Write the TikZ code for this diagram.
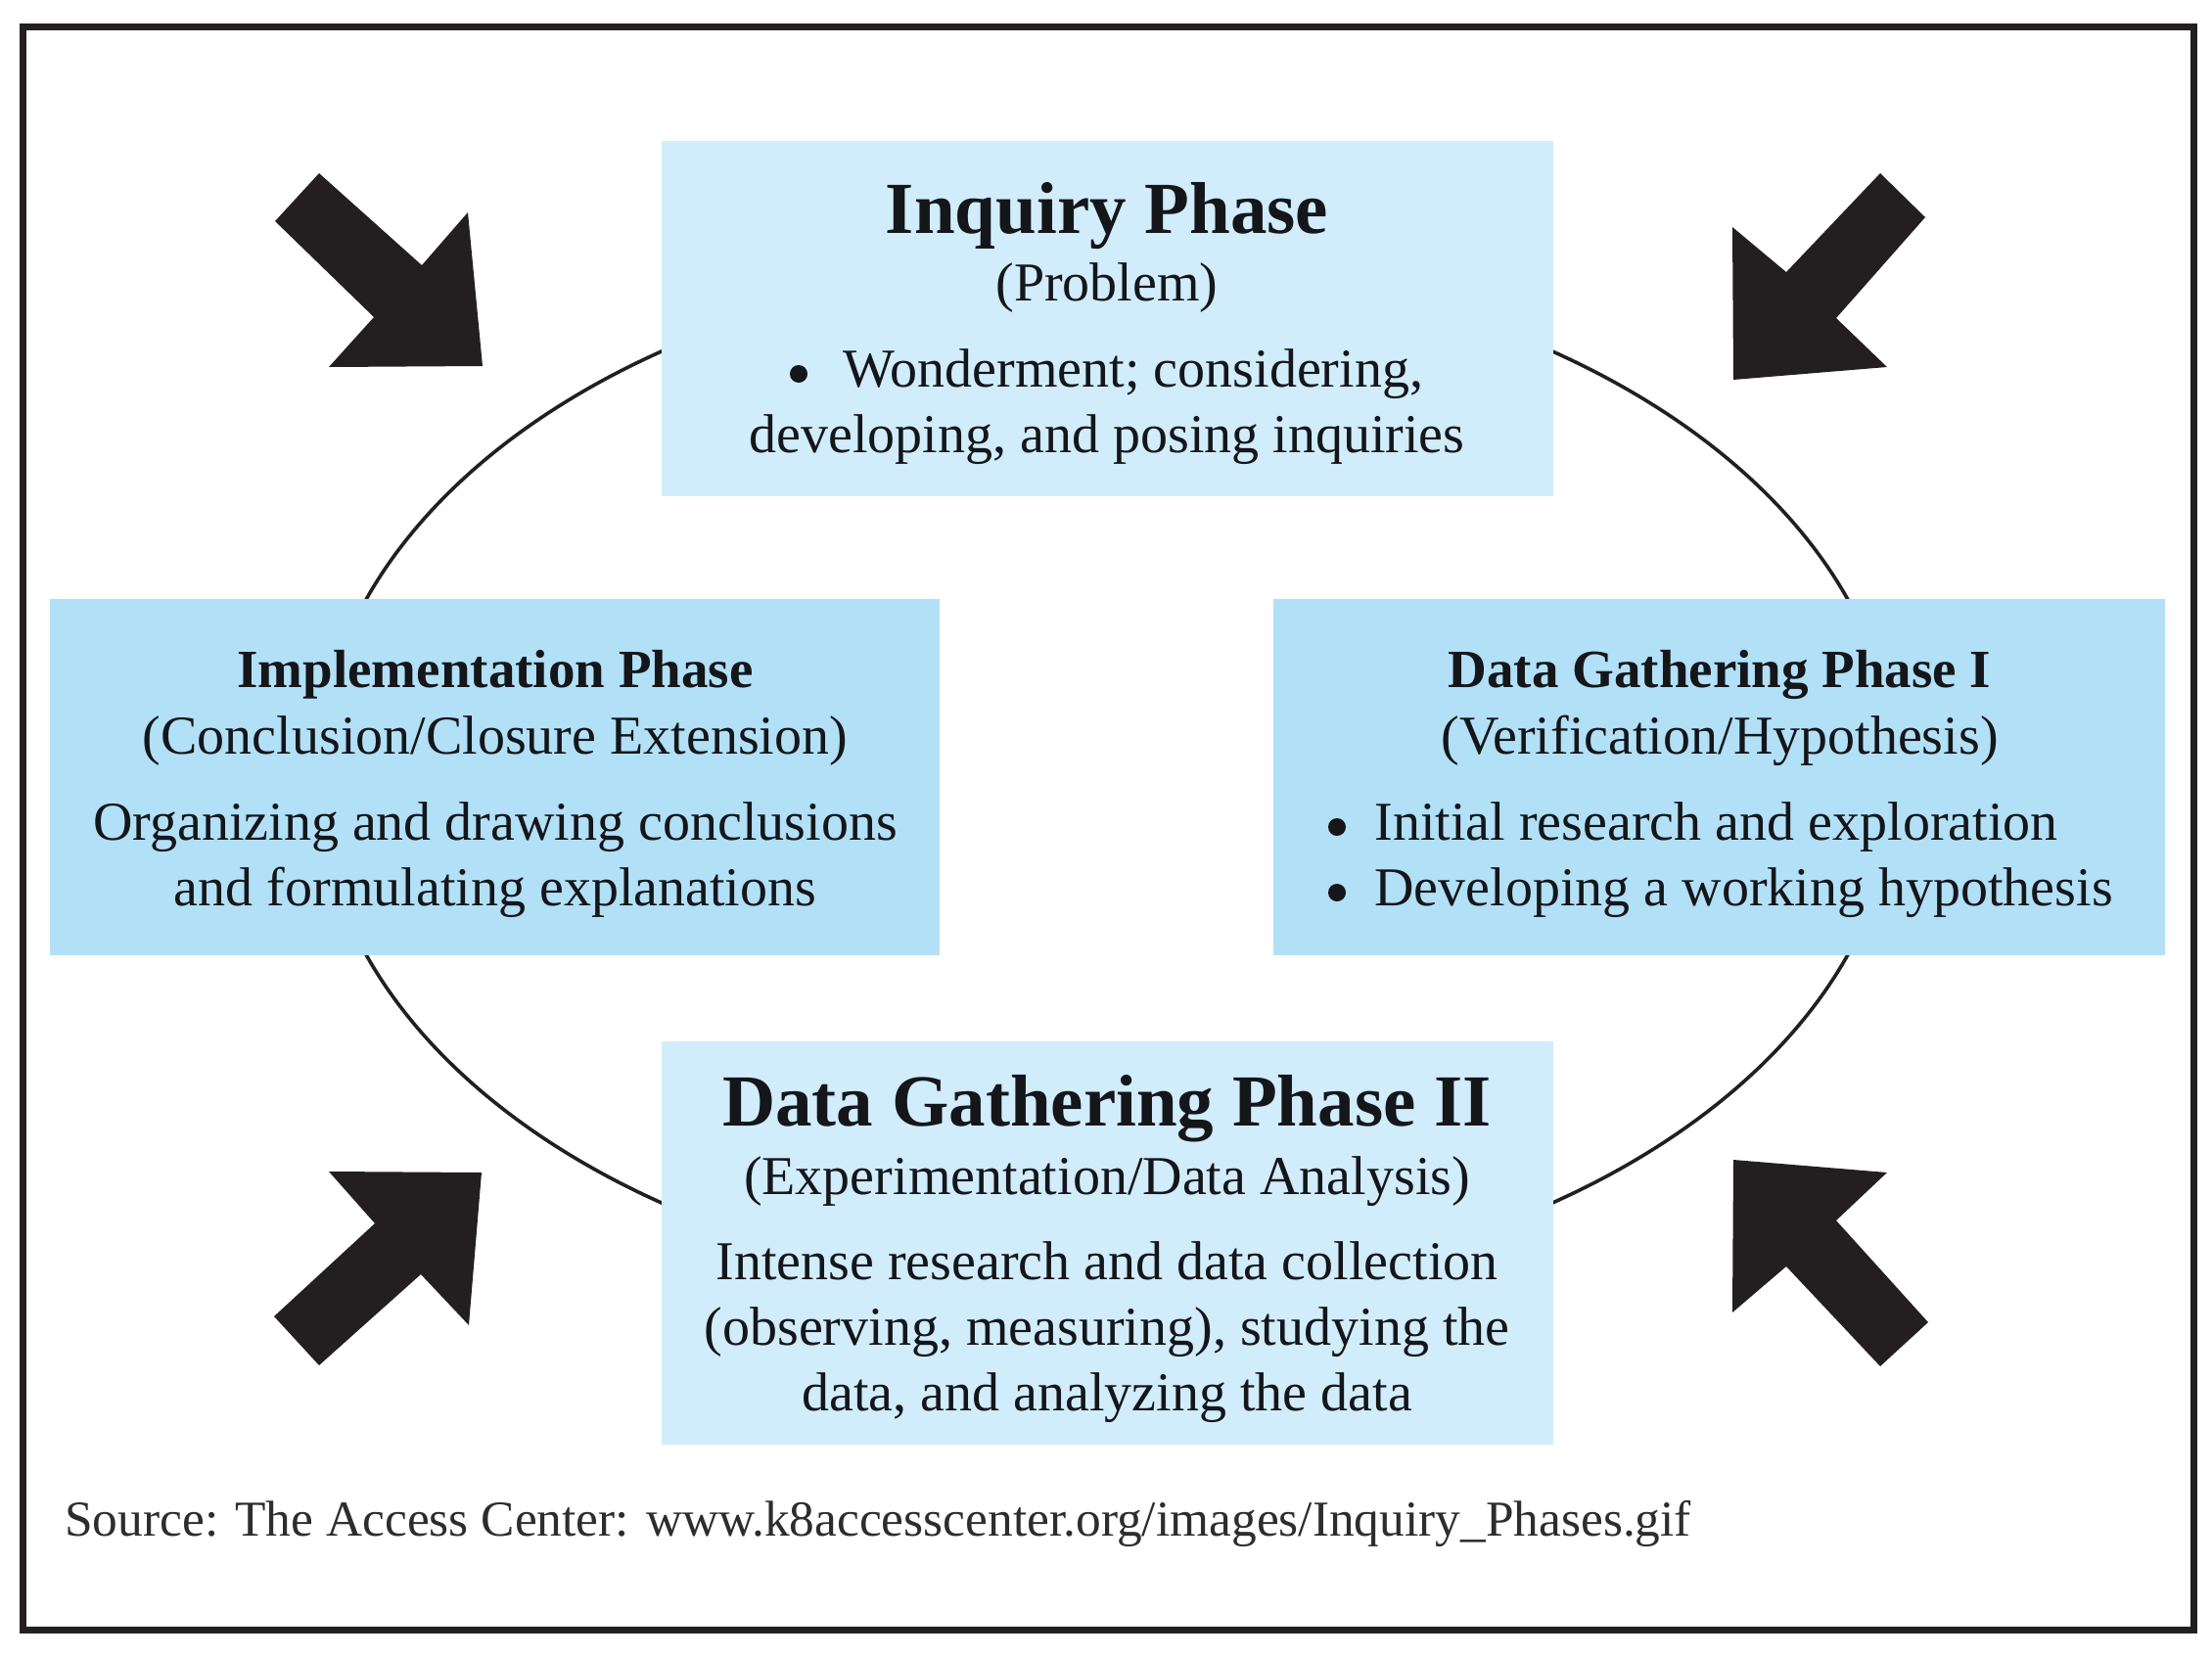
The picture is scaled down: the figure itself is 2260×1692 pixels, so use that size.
\documentclass[tikz,border=0pt]{standalone}
\usepackage{fontspec}
\setmainfont{Liberation Serif}
\definecolor{boxlight}{RGB}{209,236,250}
\definecolor{boxdark}{RGB}{178,224,246}
\definecolor{inkc}{RGB}{35,31,32}
\definecolor{textdark}{RGB}{20,22,26}
\definecolor{srcc}{RGB}{45,45,45}
\tikzset{
  phasebox/.style={rectangle, inner sep=0pt, draw=none},
  lightbox/.style={phasebox, fill=boxlight},
  darkbox/.style={phasebox, fill=boxdark},
  txt/.style={inner sep=0pt, anchor=base, text=textdark, font=\fontsize{28pt}{33.5pt}\selectfont},
  bigtitle/.style={txt, font=\fontsize{37.5pt}{40pt}\selectfont\bfseries},
  headtitle/.style={txt, font=\fontsize{27.5pt}{33pt}\selectfont\bfseries},
  bullettxt/.style={txt, anchor=base west},
  dotbullet/.style={circle, fill=textdark, draw=none, inner sep=0pt, minimum size=9pt},
  bigarrow/.style={fill=inkc, draw=none},
  cycleline/.style={draw=inkc, line width=1.8pt},
}
\begin{document}
\begin{tikzpicture}[x=0.5pt, y=-0.5pt]
\useasboundingbox (0,0) rectangle (2260,1692);
% outer frame
\draw[draw=inkc, line width=3.5pt] (23.5,27.5) rectangle (2241,1665);

% cycle ellipse
\draw[cycleline] (1131,794) ellipse [x radius=806, y radius=527];

% phase boxes
\node[lightbox, minimum width=455.5pt, minimum height=181.5pt] (inq) at (1131.5,325.5) {};
\node[darkbox, minimum width=454.5pt, minimum height=182pt] (impl) at (505.5,794) {};
\node[darkbox, minimum width=455.5pt, minimum height=182pt] (dgone) at (1756.5,794) {};
\node[lightbox, minimum width=455.5pt, minimum height=206pt] (dgtwo) at (1131.5,1270) {};

% big arrows
\fill[bigarrow] (326,177) -- (431,271) -- (478,217) -- (493,374) -- (336,375) -- (382,324) -- (281,226) -- cycle;
\fill[bigarrow] (1921,177) -- (1825,278) -- (1770,232) -- (1771,388) -- (1928,375) -- (1876,325) -- (1967,222) -- cycle;
\fill[bigarrow] (383,1250) -- (336,1197) -- (492,1198) -- (479,1354) -- (430,1302) -- (326,1395) -- (280,1345) -- cycle;
\fill[bigarrow] (1771,1185) -- (1928,1198) -- (1876,1247) -- (1970,1351) -- (1921,1396) -- (1825,1294) -- (1770,1341) -- cycle;

% Inquiry phase
\node[bigtitle] (inqt) at (1131,238) {Inquiry Phase};
\node[txt] (inqs) at (1131,307) {(Problem)};
\node[dotbullet] (inqdot) at (816,382) {};
\node[bullettxt] (inqa) at (861,395) {Wonderment; considering,};
\node[txt] (inqb) at (1131,462) {developing, and posing inquiries};

% Implementation phase
\node[headtitle] (implt) at (506,702) {Implementation Phase};
\node[txt] (impls) at (506,770) {(Conclusion/Closure Extension)};
\node[txt] (impla) at (506,858) {Organizing and drawing conclusions};
\node[txt] (implb) at (506,925) {and formulating explanations};

% Data gathering phase I
\node[headtitle] (dgonet) at (1757,702) {Data Gathering Phase I};
\node[txt] (dgones) at (1757,770) {(Verification/Hypothesis)};
\node[dotbullet] (dgonedota) at (1366,845) {};
\node[bullettxt] (dgonea) at (1404,858) {Initial research and exploration};
\node[dotbullet] (dgonedotb) at (1366,912) {};
\node[bullettxt] (dgoneb) at (1404,925) {Developing a working hypothesis};

% Data gathering phase II
\node[bigtitle] (dgtwot) at (1131,1150) {Data Gathering Phase II};
\node[txt] (dgtwos) at (1131,1220) {(Experimentation/Data Analysis)};
\node[txt] (dgtwoa) at (1131,1307) {Intense research and data collection};
\node[txt] (dgtwob) at (1131,1374) {(observing, measuring), studying the};
\node[txt] (dgtwoc) at (1131,1441) {data, and analyzing the data};

% source
\node[txt, anchor=base west, text=srcc, font=\fontsize{25.7pt}{30pt}\selectfont] (src) at (66,1569) {Source: The Access Center: www.k8accesscenter.org/images/Inquiry\_Phases.gif};
\end{tikzpicture}
\end{document}
